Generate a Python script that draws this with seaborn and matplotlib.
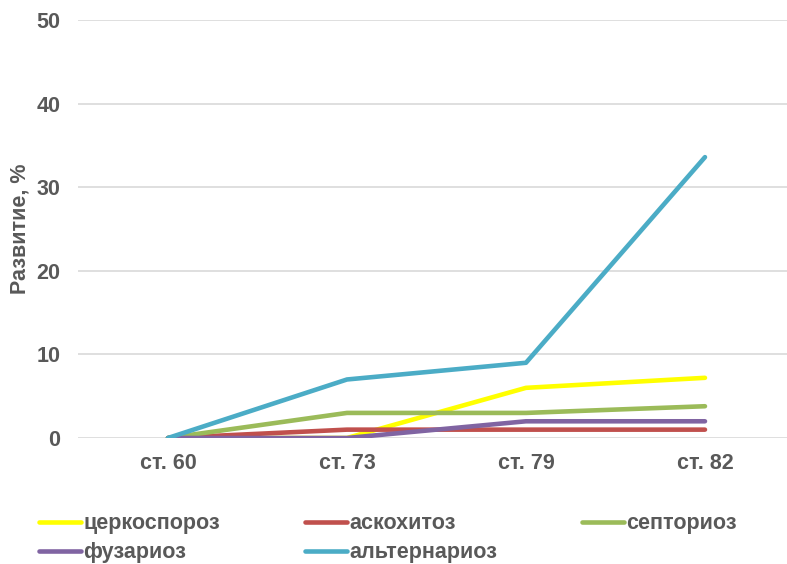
import pandas as pd
import seaborn as sns
import matplotlib.pyplot as plt

stages = ["ст. 60", "ст. 73", "ст. 79", "ст. 82"]
diseases = ["церкоспороз", "аскохитоз", "септориоз", "фузариоз", "альтернариоз"]
cercospora = [0, 0, 6.0, 7.2]
ascochyta = [0, 1.0, 1.0, 1.0]
septoria = [0, 3.0, 3.0, 3.8]
fusarium = [0, 0, 2.0, 2.0]
alternaria = [0, 7.0, 9.0, 33.6]
colors = ["#FFFF00", "#C0504D", "#9BBB59", "#8064A2", "#4BACC6"]

gray = "#595959"
fs = 15.5


def main():
    sns.set_theme(style="white")
    plt.rcParams["font.family"] = ["Liberation Sans", "DejaVu Sans"]
    plt.rcParams["font.weight"] = "bold"

    rows = []
    for name, vals in zip(diseases, [cercospora, ascochyta, septoria, fusarium, alternaria]):
        for i, (st, v) in enumerate(zip(stages, vals)):
            rows.append({"pos": i, "stage": st, "disease": name, "value": v})
    df = pd.DataFrame(rows)

    fig = plt.figure(figsize=(7.87, 5.64), dpi=100)
    ax = fig.add_axes([0.0997, 0.2234, 0.9098, 0.7411])

    sns.lineplot(data=df, x="pos", y="value", hue="disease", hue_order=diseases,
                 palette=colors, linewidth=3.3, ax=ax, legend=True,
                 solid_capstyle="round")

    ax.set_xlim(-0.5, 3.5)
    ax.set_ylim(0, 50)
    ax.set_xticks(range(len(stages)))
    ax.set_xticklabels(stages)
    ax.set_yticks([0, 10, 20, 30, 40, 50])
    ax.yaxis.grid(True, color="#D9D9D9", linewidth=1.2)
    ax.set_axisbelow(True)
    for s in ax.spines.values():
        s.set_visible(False)
    ax.tick_params(axis="both", length=0, labelsize=fs, labelcolor=gray)
    ax.tick_params(axis="y", pad=13)
    ax.tick_params(axis="x", pad=11)
    for lab in ax.get_xticklabels() + ax.get_yticklabels():
        lab.set_fontweight("bold")

    ax.set_xlabel("")
    ax.set_ylabel("Развитие, %", fontsize=fs, fontweight="bold", color=gray)
    ax.yaxis.set_label_coords(-0.067, 0.5)

    # legend filled row by row, like the original
    handles, labels = ax.get_legend_handles_labels()
    ax.get_legend().remove()
    order = [0, 3, 1, 4, 2]
    leg = fig.legend([handles[i] for i in order], [labels[i] for i in order],
                     ncol=3, loc="upper left", bbox_to_anchor=(0.0496, 0.09),
                     frameon=False, fontsize=fs, handlelength=1.95,
                     handletextpad=0.1, columnspacing=3.95, labelspacing=0.38,
                     borderpad=0, borderaxespad=0)
    for t in leg.get_texts():
        t.set_color(gray)
        t.set_fontweight("bold")

    fig.savefig("out.png", dpi=100)


if __name__ == "__main__":
    main()
